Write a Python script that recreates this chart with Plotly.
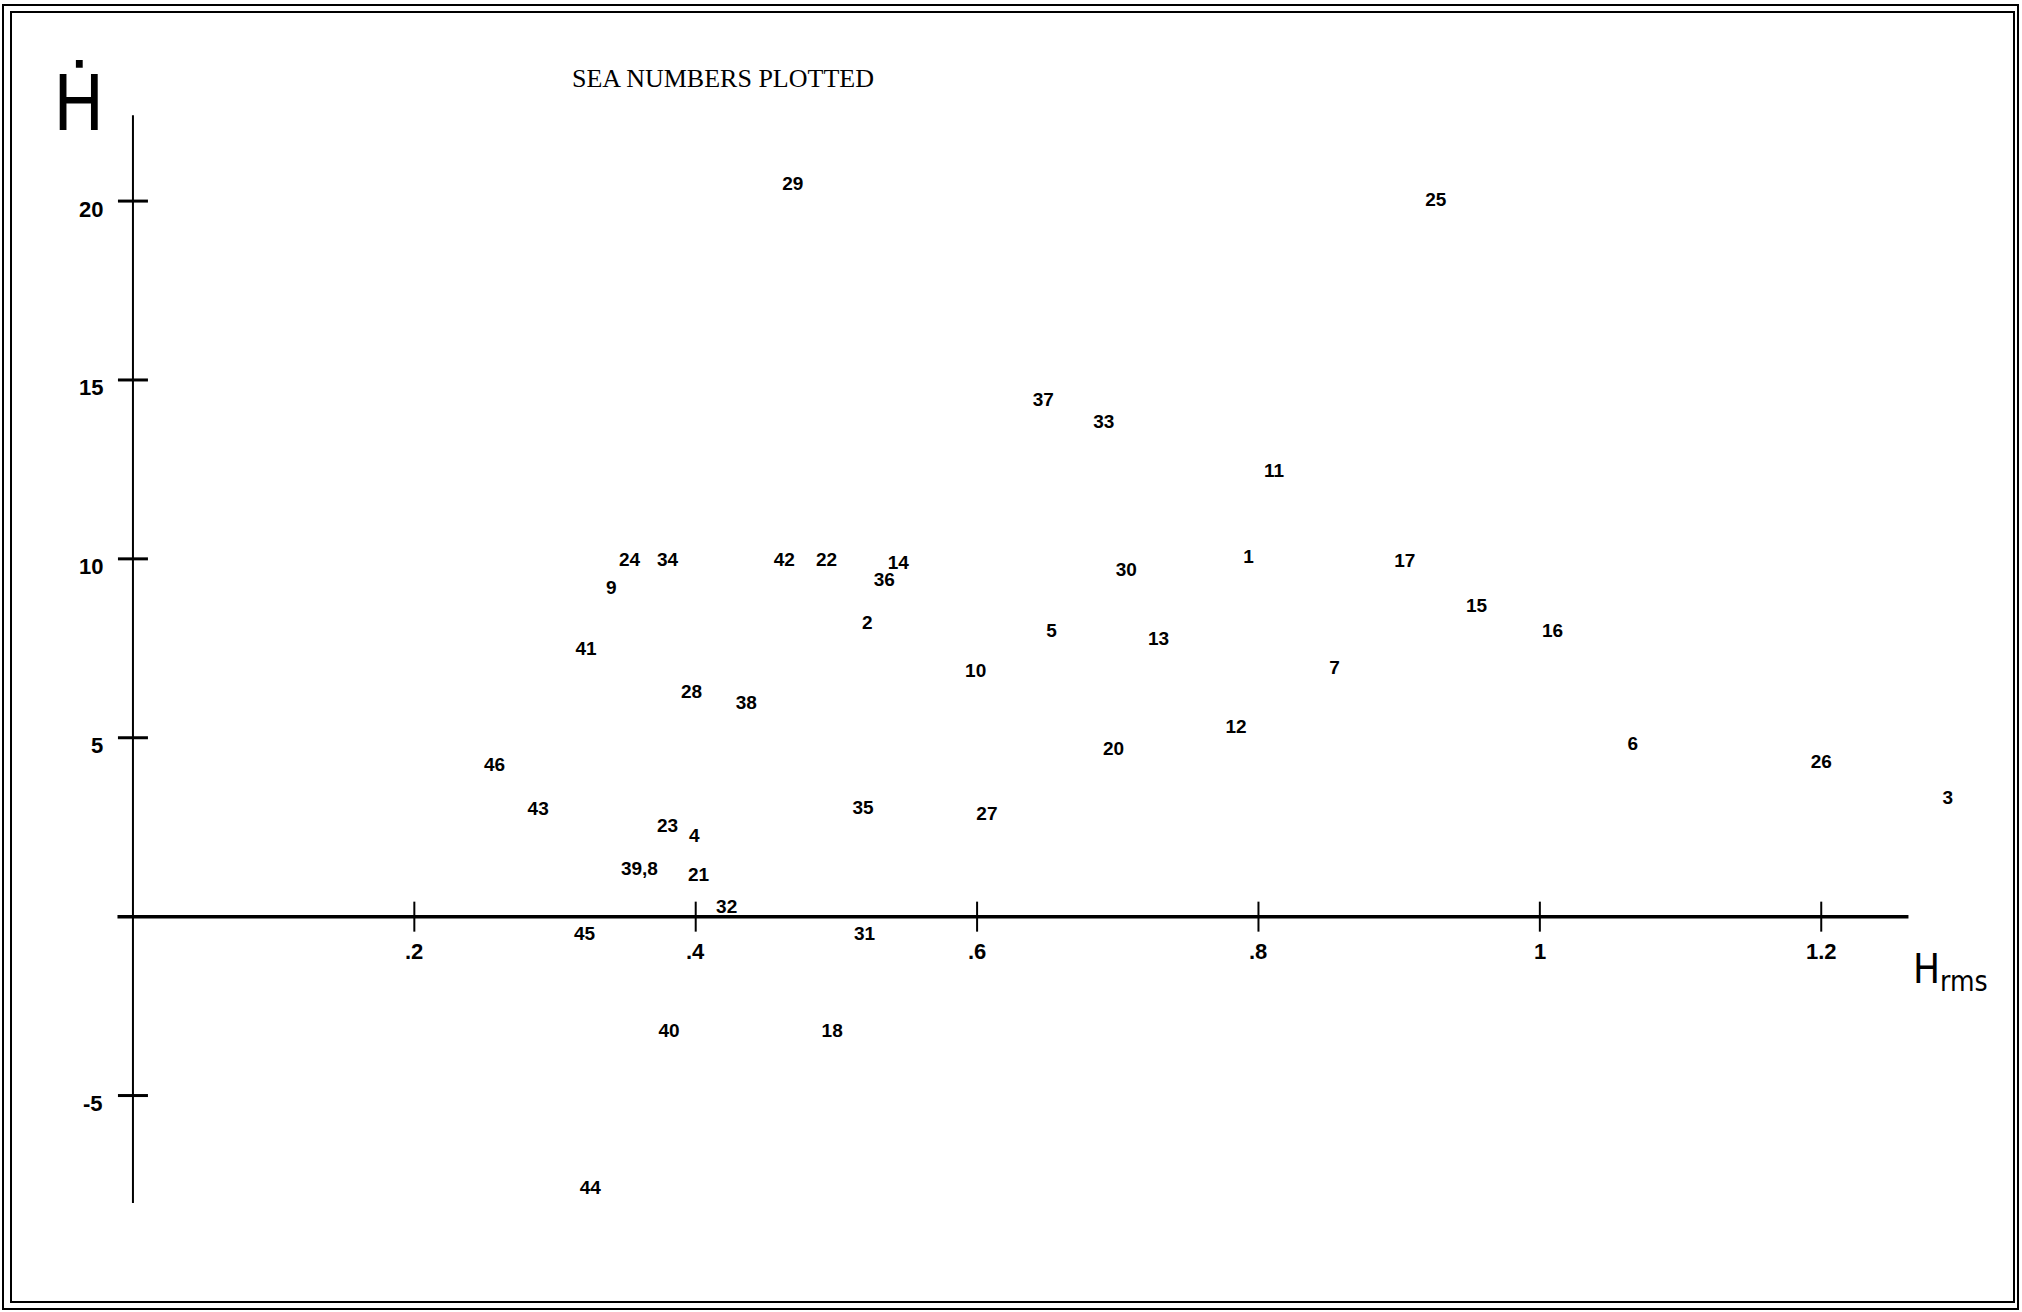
import plotly.graph_objects as go

# Sea numbers and their positions (H_rms, H-dot)
sea_ids = ["29", "25", "37", "33", "11",
           "24", "34", "42", "22", "14", "1", "17",
           "36", "30", "9", "15", "2", "5", "16", "13",
           "41", "7", "10", "28", "38", "12", "6", "20",
           "26", "46", "3", "43", "35", "27", "23", "4",
           "39,8", "21", "32", "45", "31", "40", "18", "44"]
h_rms = [0.469, 0.926, 0.647, 0.690, 0.811,
         0.353, 0.380, 0.463, 0.493, 0.544, 0.793, 0.904,
         0.534, 0.706, 0.340, 0.955, 0.522, 0.653, 1.009, 0.729,
         0.322, 0.854, 0.599, 0.397, 0.436, 0.784, 1.066, 0.697,
         1.200, 0.257, 1.290, 0.288, 0.519, 0.607, 0.380, 0.399,
         0.360, 0.402, 0.422, 0.321, 0.520, 0.381, 0.497, 0.325]
h_dot = [20.44, 20.00, 14.40, 13.79, 12.43,
         9.93, 9.93, 9.94, 9.94, 9.86, 10.01, 9.91,
         9.37, 9.65, 9.16, 8.66, 8.18, 7.96, 7.96, 7.73,
         7.44, 6.91, 6.84, 6.24, 5.94, 5.26, 4.78, 4.65,
         4.30, 4.21, 3.29, 2.97, 2.99, 2.84, 2.49, 2.23,
         1.31, 1.14, 0.24, -0.51, -0.51, -3.22, -3.22, -7.61]

# Axis ticks and their labels
x_ticks = [0.2, 0.4, 0.6, 0.8, 1.0, 1.2]
x_tick_text = [".2", ".4", ".6", ".8", "1", "1.2"]
y_ticks = [20, 15, 10, 5, -5]
y_tick_text = ["20", "15", "10", "5", "-5"]

W, H = 2022, 1312
X_RANGE = [-0.0945, 1.3427]
Y_RANGE = [-11.05, 25.62]
X_AXIS_SPAN = (-0.011, 1.262)
Y_AXIS_SPAN = (-8.0, 22.4)
px_per_x = W / (X_RANGE[1] - X_RANGE[0])
px_per_y = H / (Y_RANGE[1] - Y_RANGE[0])
TICK_HALF_PX = 15

fig = go.Figure()

fig.add_trace(go.Scatter(
    x=h_rms, y=h_dot, text=sea_ids, mode="text",
    textposition="middle center",
    textfont=dict(family="Liberation Sans Narrow, Arial Narrow, sans-serif",
                  size=19, color="black", weight="bold"),
    hoverinfo="skip", showlegend=False,
))

shapes = []
# axis lines crossing at the origin
shapes.append(dict(type="line", xref="x", yref="y", x0=0, x1=0,
                   y0=Y_AXIS_SPAN[0], y1=Y_AXIS_SPAN[1],
                   line=dict(color="black", width=2)))
shapes.append(dict(type="line", xref="x", yref="y", x0=X_AXIS_SPAN[0],
                   x1=X_AXIS_SPAN[1], y0=0, y1=0,
                   line=dict(color="black", width=3.5)))
# crossing tick marks
dx = TICK_HALF_PX / px_per_x
dy = TICK_HALF_PX / px_per_y
for v in y_ticks:
    shapes.append(dict(type="line", xref="x", yref="y", x0=-dx, x1=dx,
                       y0=v, y1=v, line=dict(color="black", width=3)))
for v in x_ticks:
    shapes.append(dict(type="line", xref="x", yref="y", x0=v, x1=v,
                       y0=-dy, y1=dy, line=dict(color="black", width=2)))
# double frame around the sheet
shapes.append(dict(type="rect", xref="paper", yref="paper",
                   x0=3 / W, x1=2018 / W, y0=1 - 1309 / H, y1=1 - 5 / H,
                   line=dict(color="black", width=2)))
shapes.append(dict(type="rect", xref="paper", yref="paper",
                   x0=11 / W, x1=2014 / W, y0=1 - 1302 / H, y1=1 - 12 / H,
                   line=dict(color="black", width=2)))

tick_font = dict(family="Liberation Sans, Arial, sans-serif", size=22,
                 color="black", weight="bold")
annotations = []
for v, t in zip(x_ticks, x_tick_text):
    annotations.append(dict(x=v, y=0, xref="x", yref="y", text=t,
                            showarrow=False, xanchor="center",
                            yanchor="middle", yshift=-35, font=tick_font))
for v, t in zip(y_ticks, y_tick_text):
    annotations.append(dict(x=0, y=v, xref="x", yref="y", text=t,
                            showarrow=False, xanchor="right",
                            yanchor="middle", xshift=-28, yshift=-8,
                            font=tick_font))

annotations.append(dict(x=723 / W, y=1 - 79 / H, xref="paper", yref="paper",
                        text="SEA NUMBERS PLOTTED", showarrow=False,
                        xanchor="center", yanchor="middle",
                        font=dict(family="Liberation Serif, serif", size=26,
                                  color="black")))
annotations.append(dict(x=78 / W, y=1 - 104 / H, xref="paper", yref="paper",
                        text="Ḣ", showarrow=False,
                        xanchor="center", yanchor="middle",
                        font=dict(family="DejaVu Sans Condensed, DejaVu Sans",
                                  size=76, color="black")))
annotations.append(dict(x=1950 / W, y=1 - 972 / H, xref="paper", yref="paper",
                        text="H<sub>rms</sub>", showarrow=False,
                        xanchor="center", yanchor="middle",
                        font=dict(family="DejaVu Sans Condensed, DejaVu Sans",
                                  size=40, color="black")))

fig.update_layout(
    width=W, height=H,
    margin=dict(l=0, r=0, t=0, b=0),
    paper_bgcolor="white", plot_bgcolor="white",
    xaxis=dict(range=X_RANGE, domain=[0, 1], visible=False),
    yaxis=dict(range=Y_RANGE, domain=[0, 1], visible=False),
    shapes=shapes, annotations=annotations,
    showlegend=False,
)

fig.write_html("out.html")
